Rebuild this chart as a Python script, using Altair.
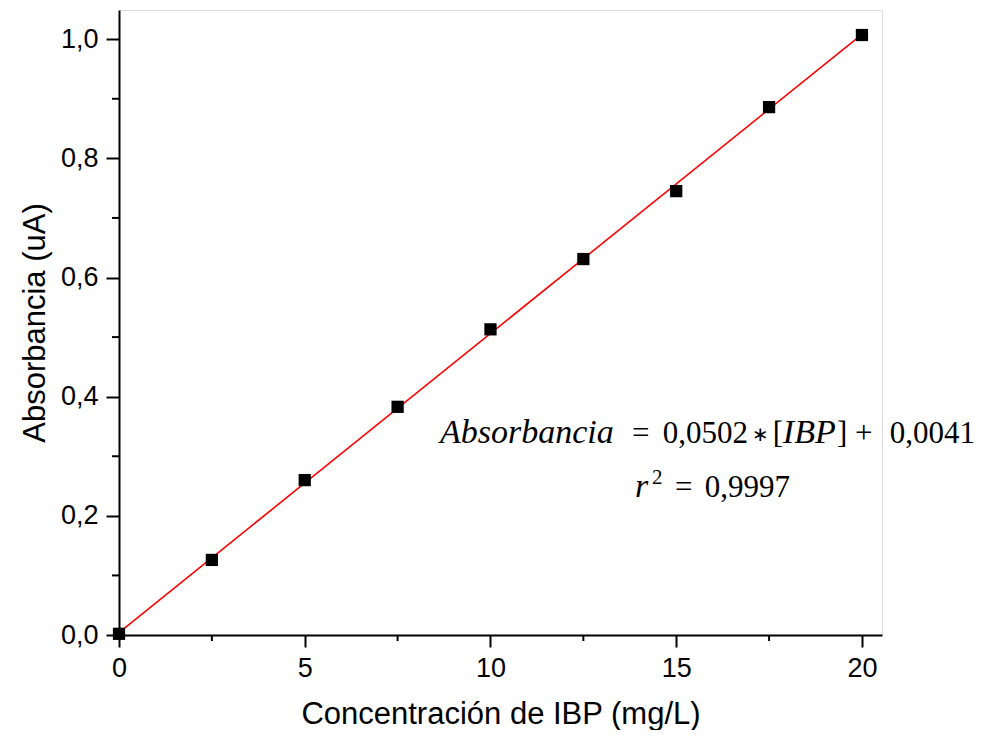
import altair as alt
import pandas as pd

# measured data
conc = [0, 2.5, 5, 7.5, 10, 12.5, 15, 17.5, 20]
absorb = [0.002, 0.126, 0.260, 0.383, 0.513, 0.631, 0.745, 0.886, 1.007]

# fitted line endpoints (Absorbancia = 0,0502*[IBP] + 0,0041)
fit_x = [0, 20]
fit_y = [0.0041, 1.0081]

# minor ticks
x_minor = [2.5, 7.5, 12.5, 17.5]
y_minor = [0.1, 0.3, 0.5, 0.7, 0.9]

# equation segments (data coordinates)
it_text = ["Absorbancia", "IBP", "r"]
it_x = [8.64, 17.87, 13.89]
it_y = [0.322, 0.322, 0.2315]
up_text = ["=", "0,0502", "[", "]", "+", "0,0041", "=", "0,9997"]
up_x = [13.81, 14.64, 17.60, 19.33, 19.81, 20.75, 14.97, 15.77]
up_y = [0.322] * 6 + [0.2315] * 2
op_text = ["∗"]
op_x = [17.04]
op_y = [0.322]
sup_text = ["2"]
sup_x = [14.35]
sup_y = [0.2315]

pts = pd.DataFrame({"x": conc, "y": absorb})
fit = pd.DataFrame({"x": fit_x, "y": fit_y})
xm = pd.DataFrame({"x": x_minor})
ym = pd.DataFrame({"y": y_minor})
itd = pd.DataFrame({"t": it_text, "x": it_x, "y": it_y})
upd = pd.DataFrame({"t": up_text, "x": up_x, "y": up_y})
op = pd.DataFrame({"t": op_text, "x": op_x, "y": op_y})
sup = pd.DataFrame({"t": sup_text, "x": sup_x, "y": sup_y})

xscale = alt.Scale(domain=[0, 20.54], nice=False, zero=False)
yscale = alt.Scale(domain=[0, 1.049], nice=False, zero=False)

xaxis = alt.Axis(values=[0, 5, 10, 15, 20], title="Concentración de IBP (mg/L)",
                 grid=False, tickSize=12, tickWidth=2, tickColor="black",
                 domainColor="black", domainWidth=2,
                 labelFont="Liberation Sans", labelFontSize=27, labelColor="black",
                 labelPadding=8, labelFlush=False,
                 titleFont="Liberation Sans", titleFontSize=31, titleFontWeight="normal",
                 titleColor="black", titlePadding=18)
yaxis = alt.Axis(values=[0, 0.2, 0.4, 0.6, 0.8, 1.0], title="Absorbancia (uA)",
                 labelExpr="replace(format(datum.value, '.1f'), '.', ',')",
                 grid=False, tickSize=13, tickWidth=2, tickColor="black",
                 domainColor="black", domainWidth=2,
                 labelFont="Liberation Sans", labelFontSize=27, labelColor="black",
                 labelPadding=8, labelFlush=False,
                 titleFont="Liberation Sans", titleFontSize=31, titleFontWeight="normal",
                 titleColor="black", titlePadding=9)

base_x = alt.X("x:Q", scale=xscale, axis=xaxis)
base_y = alt.Y("y:Q", scale=yscale, axis=yaxis)

line = alt.Chart(fit).mark_line(color="#ff0000", strokeWidth=1.6).encode(x=base_x, y=base_y)
points = alt.Chart(pts).mark_square(color="black", size=150, opacity=1).encode(
    x=alt.X("x:Q", scale=xscale), y=alt.Y("y:Q", scale=yscale))

xminor = alt.Chart(xm).mark_rule(color="black", strokeWidth=2).encode(
    x=alt.X("x:Q", scale=xscale), y=alt.value(625), y2=alt.value(631))
yminor = alt.Chart(ym).mark_rule(color="black", strokeWidth=2).encode(
    y=alt.Y("y:Q", scale=yscale), x=alt.value(-7), x2=alt.value(0))

enc = dict(x=alt.X("x:Q", scale=xscale), y=alt.Y("y:Q", scale=yscale), text="t:N")

eq_it = alt.Chart(itd).mark_text(
    font="Liberation Serif", fontSize=34, fontStyle="italic", align="left",
    baseline="alphabetic", color="black").encode(**enc)
eq_up = alt.Chart(upd).mark_text(
    font="Liberation Serif", fontSize=31, align="left",
    baseline="alphabetic", color="black").encode(**enc)
eq_op = alt.Chart(op).mark_text(
    font="DejaVu Sans", fontSize=20, align="left", dy=-2,
    baseline="alphabetic", color="black").encode(**enc)
eq_sup = alt.Chart(sup).mark_text(
    font="Liberation Serif", fontSize=21, align="left", dy=-13,
    baseline="alphabetic", color="black").encode(**enc)

chart = alt.layer(line, points, xminor, yminor, eq_it, eq_up, eq_op, eq_sup).properties(
    width=763, height=625,
    autosize=alt.AutoSizeParams(type="none"),
    padding={"left": 111, "top": 2, "right": 112, "bottom": 95},
).configure_view(stroke=None).configure(background="white")

chart.save("out.html", embed_options={"renderer": "svg", "actions": False})
